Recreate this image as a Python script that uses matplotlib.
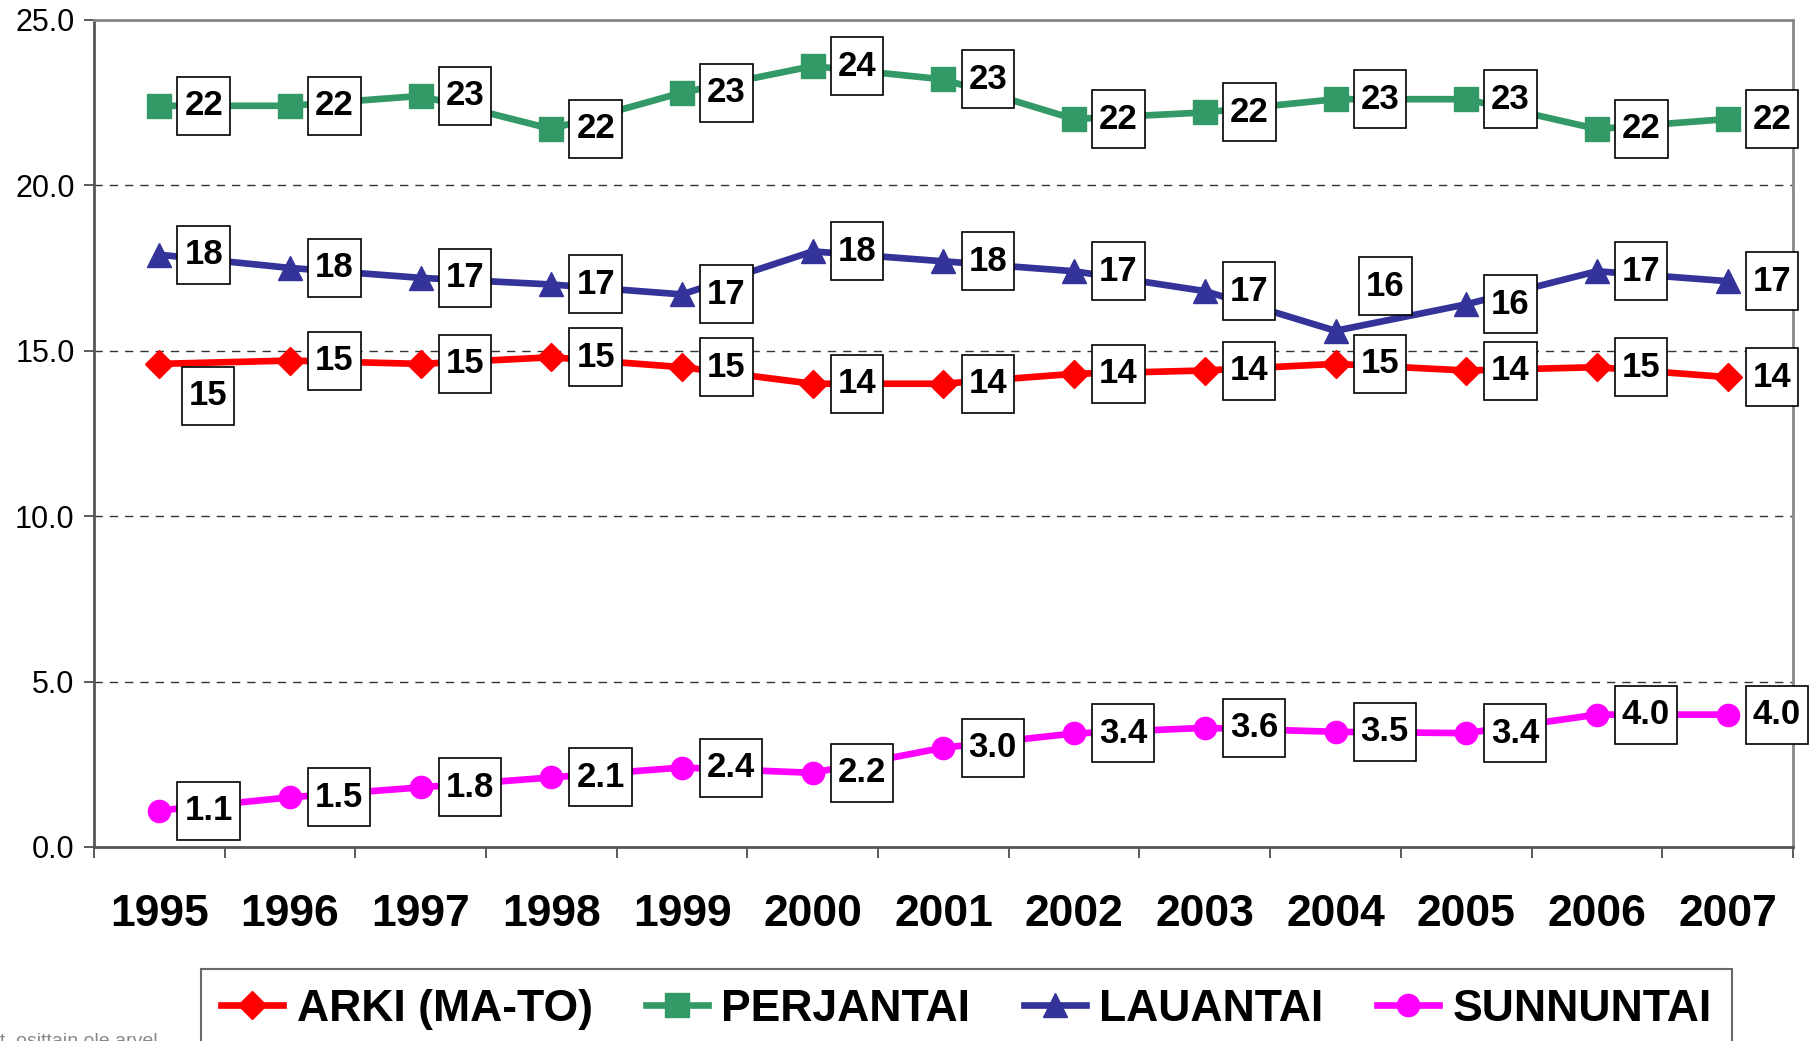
import matplotlib.pyplot as plt
from matplotlib.path import Path
from matplotlib.ticker import FixedLocator

plt.rcParams['font.family'] = ['Liberation Sans', 'DejaVu Sans']

vuodet = ["1995", "1996", "1997", "1998", "1999", "2000", "2001",
          "2002", "2003", "2004", "2005", "2006", "2007"]

arki = [14.6, 14.7, 14.6, 14.8, 14.5, 14.0, 14.0, 14.3, 14.4, 14.6, 14.4, 14.5, 14.2]
perjantai = [22.4, 22.4, 22.7, 21.7, 22.8, 23.6, 23.2, 22.0, 22.2, 22.6, 22.6, 21.7, 22.0]
lauantai = [17.9, 17.5, 17.2, 17.0, 16.7, 18.0, 17.7, 17.4, 16.8, 15.6, 16.4, 17.4, 17.1]
sunnuntai = [1.1, 1.5, 1.8, 2.1, 2.4, 2.24, 3.0, 3.43, 3.6, 3.48, 3.44, 4.0, 4.0]

arki_nimiot = ["15", "15", "15", "15", "15", "14", "14", "14", "14", "15", "14", "15", "14"]
perjantai_nimiot = ["22", "22", "23", "22", "23", "24", "23", "22", "22", "23", "23", "22", "22"]
lauantai_nimiot = ["18", "18", "17", "17", "17", "18", "18", "17", "17", "16", "16", "17", "17"]
sunnuntai_nimiot = ["1.1", "1.5", "1.8", "2.1", "2.4", "2.2", "3.0", "3.4", "3.6", "3.5", "3.4", "4.0", "4.0"]

x = list(range(len(vuodet)))


# Excelin tyyliset korkeat nimiolaatikot
def laatikko(x0, y0, width, height, mutation_size):
    px = 0.2 * mutation_size
    py = 0.36 * mutation_size
    x0, y0 = x0 - px, y0 - py
    x1, y1 = x0 + width + 2 * px, y0 + height + 2 * py
    return Path([(x0, y0), (x1, y0), (x1, y1), (x0, y1), (x0, y0)], closed=True)


fig = plt.figure(figsize=(18.14, 10.41), dpi=100)
ax = fig.add_axes([0.0518, 0.1864, 0.9366, 0.7946])

sarjat = [
    ("ARKI (MA-TO)", arki, arki_nimiot, "#FF0000", "D", 14),
    ("PERJANTAI", perjantai, perjantai_nimiot, "#339966", "s", 17),
    ("LAUANTAI", lauantai, lauantai_nimiot, "#333399", "^", 17),
    ("SUNNUNTAI", sunnuntai, sunnuntai_nimiot, "#FF00FF", "o", 16),
]

# poikkeavat nimioiden paikat (pisteina)
siirrot = {("ARKI (MA-TO)", 0): (21, -23), ("LAUANTAI", 9): (22, 32)}

for nimi, arvot, nimiot, vari, merkki, koko in sarjat:
    ax.plot(x, arvot, color=vari, linewidth=4.8, marker=merkki,
            markersize=koko, label=nimi, zorder=3)
    for i in x:
        dx, dy = siirrot.get((nimi, i), (18, 0))
        ax.annotate(nimiot[i], (i, arvot[i]), xytext=(dx, dy),
                    textcoords="offset points", ha="left", va="center",
                    fontsize=25, fontweight="bold", zorder=5,
                    bbox=dict(boxstyle=laatikko, fc="white",
                              ec="black", lw=1.2))

ax.set_xlim(-0.5, 12.5)
ax.set_ylim(0, 25)
ax.set_yticks([0, 5, 10, 15, 20, 25])
ax.set_yticklabels(["0.0", "5.0", "10.0", "15.0", "20.0", "25.0"], fontsize=22)
ax.set_xticks(x)
ax.set_xticklabels(vuodet, fontsize=32, fontweight="bold")
ax.xaxis.set_minor_locator(FixedLocator([i + 0.5 for i in range(-1, 13)]))
ax.tick_params(axis="x", which="major", length=0, pad=34)
ax.tick_params(axis="x", which="minor", length=8, width=1.2, color="#404040")
ax.tick_params(axis="y", length=7, width=1.2, color="#404040", pad=7)

for g in [5, 10, 15, 20]:
    ax.axhline(g, color="#333333", linestyle=(0, (6, 5)), linewidth=1, zorder=1)

for s in ["top", "right"]:
    ax.spines[s].set_color("#888888")
    ax.spines[s].set_linewidth(2)
for s in ["left", "bottom"]:
    ax.spines[s].set_color("#555555")
    ax.spines[s].set_linewidth(2)

leg = fig.legend(loc="upper center", bbox_to_anchor=(0.5327, 0.0692), ncol=4,
                 prop={"size": 32, "weight": "bold"}, frameon=True,
                 fancybox=False, edgecolor="#444444", handlelength=1.4,
                 handletextpad=0.3, columnspacing=1.2, borderpad=0.45,
                 borderaxespad=0)
leg.get_frame().set_linewidth(1.5)

fig.text(0.0, 0.008, "t, osittain ole arvel", fontsize=14, color="#888888",
         ha="left", va="top")

fig.savefig("out.png", dpi=100)
